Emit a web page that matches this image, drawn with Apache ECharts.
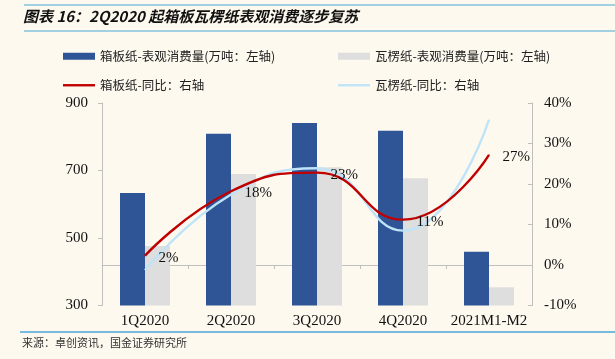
<!DOCTYPE html>
<html>
<head>
<meta charset="utf-8">
<script src="https://cdn.jsdelivr.net/npm/echarts@6/dist/echarts.min.js"></script>
<style>
html,body{margin:0;padding:0;background:#fdf9ef;}
#chart{width:615px;height:359px;}
</style>
</head>
<body>
<div id="chart"></div>
<script>
const categories = ['1Q2020', '2Q2020', '3Q2020', '4Q2020', '2021M1-M2'];
const boxboardVolume = [633, 809, 841, 818, 459];
const corrugatedVolume = [476, 690, 710, 677, 354];
const boxboardYoY = [2.3, 18.2, 22.8, 11.2, 27.2];
const corrugatedYoY = [-1.3, 17.4, 23.9, 8.5, 35.9];
const leftTicks = [300, 500, 700, 900];
const rightTicks = [-10, 0, 10, 20, 30, 40];

const names = ['箱板纸-表观消费量(万吨：左轴)', '瓦楞纸-表观消费量(万吨：左轴)', '箱板纸-同比：右轴', '瓦楞纸-同比：右轴'];
const serif = '"Liberation Serif", "Times New Roman", serif';
const cjk = '"Noto Sans CJK SC", sans-serif';

const chart = echarts.init(document.getElementById('chart'), null, {renderer: 'canvas'});
const legendText = {fontFamily: cjk, fontSize: 12.5, color: '#222'};
chart.setOption({
  backgroundColor: '#fdf9ef',
  animation: false,
  graphic: [
    {type: 'line', shape: {x1: 24, y1: 5, x2: 615, y2: 5}, style: {stroke: '#4aa6d8', lineWidth: 1.2}},
    {type: 'text', left: 23, top: 9, style: {text: '图表 16：2Q2020 起箱板瓦楞纸表观消费逐步复苏', font: 'italic bold 15px "Noto Sans CJK SC", sans-serif', fill: '#111'}},
    {type: 'line', shape: {x1: 24, y1: 31, x2: 615, y2: 31}, style: {stroke: '#4aa6d8', lineWidth: 1.2}},
    {type: 'line', shape: {x1: 20, y1: 332, x2: 615, y2: 332}, style: {stroke: '#4aa6d8', lineWidth: 1.5}},
    {type: 'text', left: 22, top: 337, style: {text: '来源：卓创资讯，国金证券研究所', font: '11px "Noto Sans CJK SC", sans-serif', fill: '#333'}}
  ],
  legend: [
    {data: [{name: names[0], icon: 'rect'}], left: 58, top: 45, itemWidth: 32, itemHeight: 7, textStyle: legendText, itemGap: 0},
    {data: [{name: names[1], icon: 'rect'}], left: 333, top: 45, itemWidth: 32, itemHeight: 7, textStyle: legendText},
    {data: [{name: names[2], icon: 'path://M0,0H32V2.4H0Z'}], left: 58, top: 74, itemWidth: 32, itemHeight: 2.4, textStyle: legendText},
    {data: [{name: names[3], icon: 'path://M0,0H32V2.4H0Z'}], left: 333, top: 74, itemWidth: 32, itemHeight: 2.4, textStyle: legendText}
  ],
  grid: {left: 102, right: 83, top: 103, bottom: 53.5, containLabel: false},
  xAxis: {
    type: 'category', data: categories,
    axisLine: {lineStyle: {color: '#bfbfbf', width: 1}},
    axisTick: {show: true, length: 4, lineStyle: {color: '#bfbfbf'}},
    axisLabel: {fontFamily: serif, fontSize: 15, color: '#111', margin: 8, interval: 0}
  },
  yAxis: [
    {
      type: 'value', min: leftTicks[0], max: leftTicks[leftTicks.length - 1], interval: 200,
      axisLine: {show: true, lineStyle: {color: '#bfbfbf'}},
      axisTick: {show: true, length: 4, lineStyle: {color: '#bfbfbf'}},
      splitLine: {show: false},
      axisLabel: {fontFamily: serif, fontSize: 15, color: '#111', margin: 14}
    },
    {
      type: 'value', min: rightTicks[0], max: rightTicks[rightTicks.length - 1], interval: 10,
      axisLine: {show: true, lineStyle: {color: '#bfbfbf'}},
      axisTick: {show: true, inside: true, length: 4, lineStyle: {color: '#bfbfbf'}},
      splitLine: {show: false},
      axisLabel: {fontFamily: serif, fontSize: 15, color: '#111', margin: 12, formatter: '{value}%'}
    }
  ],
  series: [
    {name: names[0], type: 'bar', data: boxboardVolume, barWidth: 25, barGap: '0%', itemStyle: {color: '#2f5597'}},
    {name: names[1], type: 'bar', data: corrugatedVolume, barWidth: 25, barGap: '0%', itemStyle: {color: '#dedede'}},
    {name: names[3], type: 'line', yAxisIndex: 1, data: corrugatedYoY, smooth: 0.5, symbol: 'none',
      lineStyle: {color: '#bfe4f8', width: 2.4}, itemStyle: {color: '#bfe4f8'}},
    {name: names[2], type: 'line', yAxisIndex: 1, data: boxboardYoY, smooth: 0.5, symbol: 'circle', symbolSize: 1,
      lineStyle: {color: '#c00000', width: 2.4}, itemStyle: {color: '#c00000'},
      label: {show: true, position: 'right', distance: 13, offset: [0, 2], fontFamily: serif, fontSize: 15, color: '#111',
        formatter: p => Math.round(p.value) + '%'}}
  ]
});
</script>
</body>
</html>
